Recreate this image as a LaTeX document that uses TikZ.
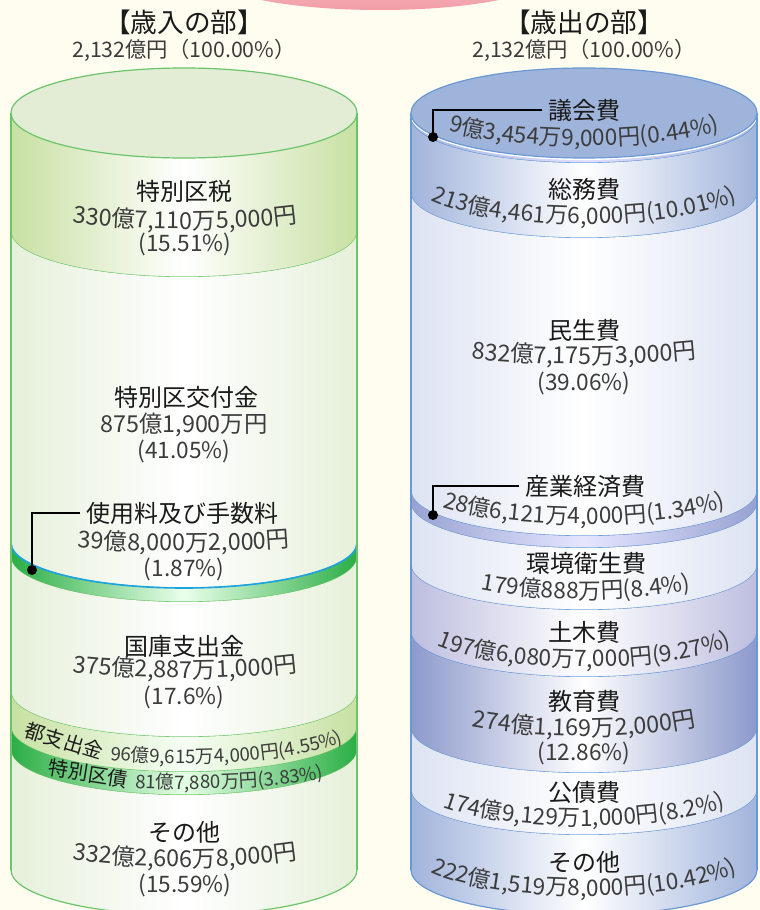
\documentclass[tikz,border=0pt]{standalone}
\usepackage{fontspec}
\setmainfont{Noto Sans CJK JP}
\usetikzlibrary{decorations.text}

\definecolor{bgcream}{HTML}{FFFDF0}
\definecolor{labelblack}{HTML}{1A1A1A}
\definecolor{amtgray}{HTML}{3C3C3C}
\definecolor{pinktop}{HTML}{FDE4E7}
\definecolor{pinkbot}{HTML}{F29CA5}
\definecolor{greenline}{HTML}{6CC46A}
\definecolor{greentop}{HTML}{E3EDD5}
\definecolor{greenpale}{HTML}{E6F0DA}
\definecolor{greensoft}{HTML}{C8E0A2}
\definecolor{greendeep}{HTML}{2BAE45}
\definecolor{cyanline}{HTML}{1CA3DC}
\definecolor{blueline}{HTML}{6A98D4}
\definecolor{bluetop}{HTML}{9FB4DB}
\definecolor{bluemid}{HTML}{A1B4DC}
\definecolor{bluepale}{HTML}{DDE3F2}
\definecolor{bluering}{HTML}{98A2D2}
\definecolor{lavender}{HTML}{BDBEDF}
\definecolor{bluedeep}{HTML}{8C99CB}

% band of a cylinder: centre x, top and bottom side y, side colour, middle colour, line colour
\newcommand\band[6]{%
  \shade[left color=#4,right color=#4,middle color=#5]
    (#1-173,-#2) arc[start angle=180,end angle=360,x radius=173,y radius=45]
    -- (#1+173,-#3) arc[start angle=0,end angle=-180,x radius=173,y radius=45] -- cycle;
  \draw[color=#6,line width=0.9pt]
    (#1-173,-#3) arc[start angle=180,end angle=360,x radius=173,y radius=45];}

% amount written along a flat arc: centre x, lowest baseline y, y radius, size, text
\newcommand\amtcurve[5]{%
  \path[decorate,decoration={text along path,text align=center,text color=amtgray,
      text={|\fontsize{#4}{#4}\selectfont|#5}}]
    (#1-173,-#2+#3) arc[start angle=180,end angle=360,x radius=173,y radius=#3];}

\begin{document}
\begin{tikzpicture}[x=0.75pt,y=0.75pt,
    title node/.style={font=\fontsize{20}{20}\selectfont,text=labelblack,anchor=base},
    total node/.style={font=\fontsize{16}{16}\selectfont,text=amtgray,anchor=base},
    label node/.style={font=\fontsize{18}{18}\selectfont,text=labelblack,anchor=base,inner sep=1pt},
    small label/.style={font=\fontsize{15}{15}\selectfont,text=labelblack,anchor=base,inner sep=1pt},
    amt node/.style={font=\fontsize{17.5}{17.5}\selectfont,text=amtgray,anchor=base,inner sep=1pt},
    pct node/.style={font=\fontsize{17}{17}\selectfont,text=amtgray,anchor=base,inner sep=1pt},
    dot node/.style={circle,fill=black,inner sep=0pt,minimum size=7.5pt},
    leader/.style={line width=1.4pt,black,shorten <=3pt}]

  \clip (0,0) rectangle (760,-910);
  \fill[bgcream] (0,0) rectangle (760,-910);
  \shade[top color=pinktop,bottom color=pinkbot] (380,25) ellipse[x radius=170,y radius=35];

  % revenue cylinder
  \band{184}{113}{232}{greensoft}{white}{greenline}
  \band{184}{232}{543}{greenpale}{white}{cyanline}
  \band{184}{543}{557}{greendeep}{green!8}{greenline}
  \band{184}{557}{692}{greenpale}{white}{greenline}
  \band{184}{692}{727}{greensoft}{green!4}{greenline}
  \band{184}{727}{750}{greendeep}{green!10}{greenline}
  \band{184}{750}{870}{greenpale}{white}{greenline}
  \draw[cyanline,line width=1.2pt]
    (11,-543) arc[start angle=180,end angle=360,x radius=173,y radius=45];
  \draw[greenline,line width=0.9pt] (11,-113) -- (11,-870) (357,-113) -- (357,-870);
  \filldraw[fill=greentop,draw=greenline,line width=0.9pt]
    (184,-113) ellipse[x radius=173,y radius=45];

  % expenditure cylinder
  \band{584}{113}{118}{bluemid}{blue!12}{blueline}
  \band{584}{118}{193}{bluemid}{white}{blueline}
  \band{584}{193}{491}{bluepale}{white}{blueline}
  \band{584}{491}{503}{bluering}{blue!10}{blueline}
  \band{584}{503}{565}{bluepale}{white}{blueline}
  \band{584}{565}{632}{lavender}{white}{blueline}
  \band{584}{632}{728}{bluedeep}{white}{blueline}
  \band{584}{728}{790}{bluepale}{white}{blueline}
  \band{584}{790}{870}{bluemid}{white}{blueline}
  \draw[white,line width=1.5pt]
    (411,-114) arc[start angle=180,end angle=360,x radius=173,y radius=45];
  \draw[blueline,line width=0.9pt] (411,-113) -- (411,-870) (757,-113) -- (757,-870);
  \filldraw[fill=bluetop,draw=blueline,line width=0.9pt]
    (584,-113) ellipse[x radius=173,y radius=45];

  % headings
  \node[title node] (inhead) at (184,-32) {【歳入の部】};
  \node[total node] (intotal) at (184,-57) {2,132億円（100.00\%）};
  \node[title node] (outhead) at (584,-32) {【歳出の部】};
  \node[total node] (outtotal) at (584,-57) {2,132億円（100.00\%）};

  % revenue labels
  \node[label node] (kuzei) at (184,-200) {特別区税};
  \amtcurve{185}{229}{27}{17.5}{330億7,110万5,000円}
  \node[pct node] (kuzeipct) at (185,-251) {(15.51\%)};

  \node[label node] (kofu) at (186,-406) {特別区交付金};
  \node[amt node] (kofuamt) at (184,-432) {875億1,900万円};
  \node[pct node] (kofupct) at (184,-458) {(41.05\%)};

  \node[label node] (shiyo) at (182,-522) {使用料及び手数料};
  \amtcurve{184}{551}{18}{17.5}{39億8,000万2,000円}
  \node[pct node] (shiyopct) at (184,-576) {(1.87\%)};
  \node[dot node] (shiyodot) at (32,-570) {};

  \node[label node] (kokko) at (184,-655) {国庫支出金};
  \amtcurve{185}{678}{25}{17.5}{375億2,887万1,000円}
  \node[pct node] (kokkopct) at (184,-704) {(17.6\%)};

  \node[small label,rotate=-17] (toshi) at (62,-748) {都支出金};
  \path[decorate,decoration={text along path,text align=left,text color=amtgray,
      text={|\fontsize{14}{14}\selectfont|96億9,615万4,000円(4.55{\%})}}]
    (110,-760) arc[start angle=244.7,end angle=360,x radius=173,y radius=36];
  \node[small label,rotate=-9] (kusai) at (87,-781) {特別区債};
  \path[decorate,decoration={text along path,text align=left,text color=amtgray,
      text={|\fontsize{14}{14}\selectfont|81億7,880万円(3.83{\%})}}]
    (135,-788) arc[start angle=253.6,end angle=360,x radius=173,y radius=25];

  \node[label node] (insonota) at (184,-841) {その他};
  \amtcurve{185}{867}{31}{17.5}{332億2,606万8,000円}
  \node[pct node] (insonotapct) at (185,-892) {(15.59\%)};

  % expenditure labels
  \node[label node] (gikai) at (584,-119) {議会費};
  \amtcurve{584}{146}{40}{17}{9億3,454万9,000円(0.44{\%})}
  \node[dot node] (gikaidot) at (433,-137) {};

  \node[label node] (somu) at (584,-198) {総務費};
  \amtcurve{584}{224}{45}{17}{213億4,461万6,000円(10.01{\%})}

  \node[label node] (minsei) at (584,-339) {民生費};
  \amtcurve{584}{364}{22}{17.5}{832億7,175万3,000円}
  \node[pct node] (minseipct) at (584,-390) {(39.06\%)};

  \node[label node] (sangyo) at (585,-495) {産業経済費};
  \amtcurve{584}{524}{40}{17}{28億6,121万4,000円(1.34{\%})}
  \node[dot node] (sangyodot) at (433,-515) {};

  \node[label node] (kankyo) at (586,-572) {環境衛生費};
  \amtcurve{586}{599}{45}{17}{179億888万円(8.4{\%})}

  \node[label node] (doboku) at (584,-641) {土木費};
  \amtcurve{584}{667}{45}{17}{197億6,080万7,000円(9.27{\%})}

  \node[label node] (kyoiku) at (584,-710) {教育費};
  \amtcurve{584}{736}{40}{17.5}{274億1,169万2,000円}
  \node[pct node] (kyoikupct) at (584,-760) {(12.86\%)};

  \node[label node] (kosai) at (584,-801) {公債費};
  \amtcurve{584}{826}{45}{17}{174億9,129万1,000円(8.2{\%})}

  \node[label node] (outsonota) at (584,-871) {その他};
  \amtcurve{584}{896}{45}{17}{222億1,519万8,000円(10.42{\%})}

  % leaders
  \draw[leader] (shiyo.west) -| (shiyodot.center);
  \draw[leader] (gikai.west) -| (gikaidot.center);
  \draw[leader] (sangyo.west) -| (sangyodot.center);
\end{tikzpicture}
\end{document}
